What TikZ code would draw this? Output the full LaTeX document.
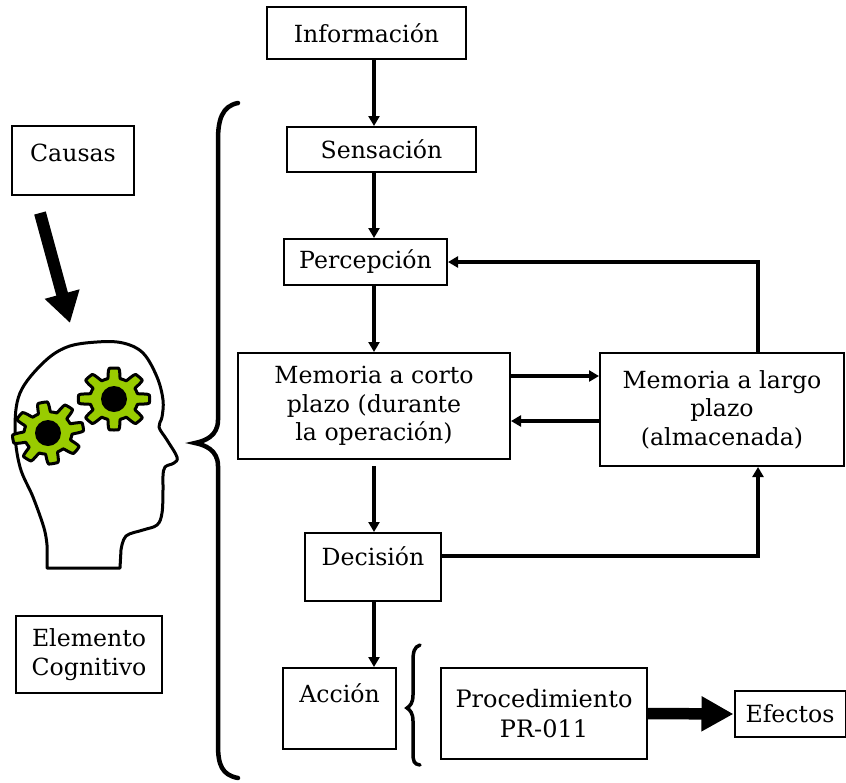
\documentclass[tikz,border=0pt]{standalone}
\usepackage{fontspec}
\setmainfont{DejaVu Serif}
\usetikzlibrary{arrows.meta}

\definecolor{gearGreen}{RGB}{153,204,0}
\tikzset{
  box/.style={draw, line width=2pt, align=center, inner sep=0pt},
  flow/.style={-{Triangle[length=10pt,width=11pt]}, line width=4pt},
  fat/.style={-{Triangle[length=32pt,width=33pt]}, line width=11.5pt},
  curly/.style={line width=4.5pt, line cap=round},
  gear/.style={fill=gearGreen, draw, line width=3pt, line join=round},
  head/.style={draw, line width=3pt, line join=round},
}
\newcommand{\cog}[3]{%
  \draw[gear, shift={(#1,#2)}, rotate=#3, xscale=1.15]
    plot[domain=0:360, samples=193] (\x:{26+5*min(1,max(-1,2.5*cos(8*\x)))}) -- cycle;
  \fill[shift={(#1,#2)}] (0,0) circle[radius=13pt];
}

\begin{document}
\begin{tikzpicture}[x=1pt, y=-1pt, font=\fontsize{23.6}{28.5}\selectfont]
  \useasboundingbox (0,0) rectangle (846,782);

  % flow of boxes
  \node[box, minimum width=199, minimum height=52] (info) at (366.5,33) {Información};
  \node[box, minimum width=189, minimum height=45] (sens) at (381.5,149.5) {Sensación};
  \node[box, minimum width=163, minimum height=46] (perc) at (365.5,262) {Percepción};
  \node[box, minimum width=272, minimum height=106] (corto) at (374,406) {Memoria a corto\\plazo (durante\\la operación)};
  \node[box, minimum width=244, minimum height=113] (largo) at (722,409.5) {Memoria a largo\\plazo\\(almacenada)};
  \node[box, minimum width=136, minimum height=68, text depth=22pt] (deci) at (373,567) {Decisión};
  \node[box, minimum width=113, minimum height=81, text depth=30pt] (accion) at (339.5,708.5) {Acción};
  \node[box, minimum width=206, minimum height=91, font=\fontsize{24}{30}\selectfont] (proc) at (544,713.5) {Procedimiento\\PR-011};
  \node[box, minimum width=111, minimum height=46] (efe) at (790,714) {Efectos};

  % left column
  \node[box, minimum width=122, minimum height=69, text depth=16pt] (causas) at (73,160.5) {Causas};
  \node[box, minimum width=146, minimum height=77] (elem) at (89,654.5) {Elemento\\Cognitivo};

  % connectors
  \draw[flow] (info.south -| corto) -- (sens.north -| corto);
  \draw[flow] (sens.south -| corto) -- (perc.north -| corto);
  \draw[flow] (perc.south -| corto) -- (corto.north);
  \draw[flow] ([yshift=30pt]corto.east) -- ([yshift=30pt]corto.east -| largo.west);
  \draw[flow] ([yshift=-15pt]corto.east -| largo.west) -- ([yshift=-15pt]corto.east);
  \draw[flow] ([yshift=-6pt]corto.south) -- (deci.north -| corto);
  \draw[flow] ([yshift=11pt]deci.east) -| ([xshift=36pt]largo.south);
  \draw[flow] ([xshift=36pt]largo.north) |- (perc.east);
  \draw[flow] (deci.south -| corto) -- (accion.north -| corto);
  \draw[fat] (proc.east) -- (efe.west);

  % arrow into the head
  \coordinate (tail) at (40,213);
  \coordinate (tip) at (70,323);
  \draw[-{Triangle[length=30pt,width=34pt]}, line width=12pt] (tail) -- (tip);

  % head
  \draw[head] (120,568) -- (47,568) -- plot[smooth, tension=0.6] coordinates {
    (47,545) (44,528) (33,497) (20,467) (15,430) (20,393) (43,363) (67,347)
    (97,342) (123,343) (143,353) (157,377) (163,400) (162,417) (159,427)
    (167,440) (177,457) (174,463) (165,467) (163,476) (163,490) (162,513)
    (157,525) (143,530) (126,536) (121,550)} -- cycle;
  \cog{48}{433}{10}
  \cog{114}{399}{0}

  % braces
  \draw[curly] (238,103) .. controls (222,106) and (218,120) .. (218,140) -- (218,420)
    .. controls (218,436) and (205,441) .. (195,443)
    .. controls (205,445) and (218,450) .. (218,466) -- (218,745)
    .. controls (218,765) and (222,775) .. (238,778);
  \draw[curly, line width=3.5pt] (420,645) .. controls (414,647) and (413,652) .. (413,662) -- (413,695)
    .. controls (413,703) and (410,706) .. (407,708)
    .. controls (410,710) and (413,713) .. (413,721) -- (413,752)
    .. controls (413,762) and (414,764) .. (420,765);
\end{tikzpicture}
\end{document}
